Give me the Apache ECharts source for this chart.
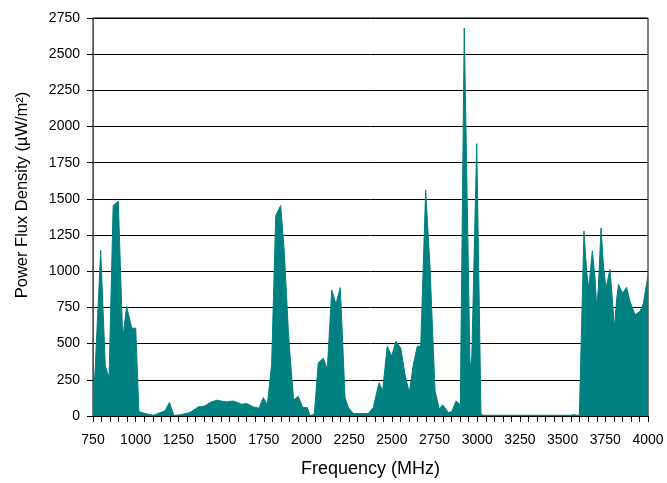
<!DOCTYPE html>
<html>
<head>
<meta charset="utf-8">
<script src="https://cdn.jsdelivr.net/npm/echarts@6/dist/echarts.min.js"></script>
<style>
html,body{margin:0;padding:0;background:#fff;}
#chart{width:667px;height:483px;}
</style>
</head>
<body>
<div id="chart"></div>
<script>
// Frequency (MHz)
var freq = [750, 762, 795, 822, 844, 868, 898, 924, 947, 977, 1000, 1019, 1060, 1105, 1172, 1197, 1224, 1260, 1318, 1367, 1406, 1435, 1474, 1533, 1572, 1621, 1650, 1689, 1722, 1747, 1771, 1796, 1820, 1849, 1870, 1894, 1908, 1925, 1952, 1978, 2005, 2021, 2046, 2069, 2099, 2122, 2148, 2173, 2198, 2226, 2245, 2275, 2362, 2391, 2425, 2446, 2473, 2499, 2524, 2552, 2577, 2602, 2626, 2649, 2669, 2698, 2723, 2753, 2778, 2798, 2831, 2851, 2876, 2901, 2924, 2958, 2968, 2997, 3022, 3035, 3550, 3565, 3580, 3598, 3625, 3641, 3653, 3674, 3690, 3700, 3709, 3725, 3739, 3754, 3777, 3791, 3803, 3817, 3827, 3852, 3875, 3895, 3924, 3953, 3973, 4000];
// Power flux density (uW/m^2)
var pfd = [80, 310, 1145, 345, 265, 1454, 1484, 535, 756, 607, 607, 30, 15, 5, 36, 93, 3, 8, 24, 63, 70, 93, 109, 97, 104, 81, 86, 63, 54, 127, 77, 356, 1385, 1454, 1140, 585, 356, 110, 136, 58, 58, 3, 12, 367, 399, 321, 870, 775, 887, 127, 58, 17, 17, 58, 230, 173, 482, 413, 516, 470, 287, 161, 356, 482, 482, 1561, 1042, 173, 47, 77, 24, 30, 104, 78, 2680, 333, 401, 1882, 12, 5, 5, 10, 5, 6, 1278, 997, 882, 1141, 951, 745, 882, 1299, 1042, 882, 1012, 813, 607, 813, 909, 848, 889, 790, 699, 722, 779, 973];
var xTicks = {min: 750, max: 4000, step: 250};
var yTicks = {min: 0, max: 2750, step: 250};

var pts = freq.map(function (f, i) { return [f, pfd[i]]; });
var FONT = 'Liberation Sans, Arial, sans-serif';
var plain = function (v) { return String(v); };
var chart = echarts.init(document.getElementById('chart'), null, {renderer: 'canvas'});
chart.setOption({
  animation: false,
  backgroundColor: '#fff',
  grid: {left: 93, right: 19, top: 18, bottom: 64.5, show: true, borderColor: '#000', borderWidth: 1, containLabel: false},
  xAxis: {
    type: 'value', min: xTicks.min, max: xTicks.max, interval: xTicks.step,
    name: 'Frequency (MHz)', nameLocation: 'middle', nameGap: 44,
    nameTextStyle: {fontFamily: FONT, fontSize: 18, color: '#000'},
    axisLine: {show: true, onZero: false, lineStyle: {color: '#000', width: 1}},
    axisTick: {show: true, length: 6, lineStyle: {color: '#000'}},
    minorTick: {show: true, splitNumber: 5, length: 6, lineStyle: {color: '#000'}},
    splitLine: {show: false},
    axisLabel: {fontFamily: FONT, fontSize: 14, color: '#000', margin: 17, formatter: plain}
  },
  yAxis: {
    type: 'value', min: yTicks.min, max: yTicks.max, interval: yTicks.step,
    axisLine: {show: true, lineStyle: {color: '#555', width: 1}},
    axisTick: {show: true, length: 6, lineStyle: {color: '#000'}},
    splitLine: {show: true, lineStyle: {color: '#000', width: 1}},
    axisLabel: {fontFamily: FONT, fontSize: 14, color: '#000', margin: 13, formatter: plain}
  },
  graphic: [{
    type: 'text', x: 22, y: 195, rotation: Math.PI / 2,
    style: {text: 'Power Flux Density (µW/m²)', fontFamily: FONT, fontSize: 16.5, fill: '#000', align: 'center', verticalAlign: 'middle'}
  }],
  series: [{
    type: 'line', data: pts, symbol: 'none', smooth: false,
    lineStyle: {color: '#008080', width: 1},
    areaStyle: {color: '#008080', opacity: 1},
    itemStyle: {color: '#008080'}
  }]
});
</script>
</body>
</html>
